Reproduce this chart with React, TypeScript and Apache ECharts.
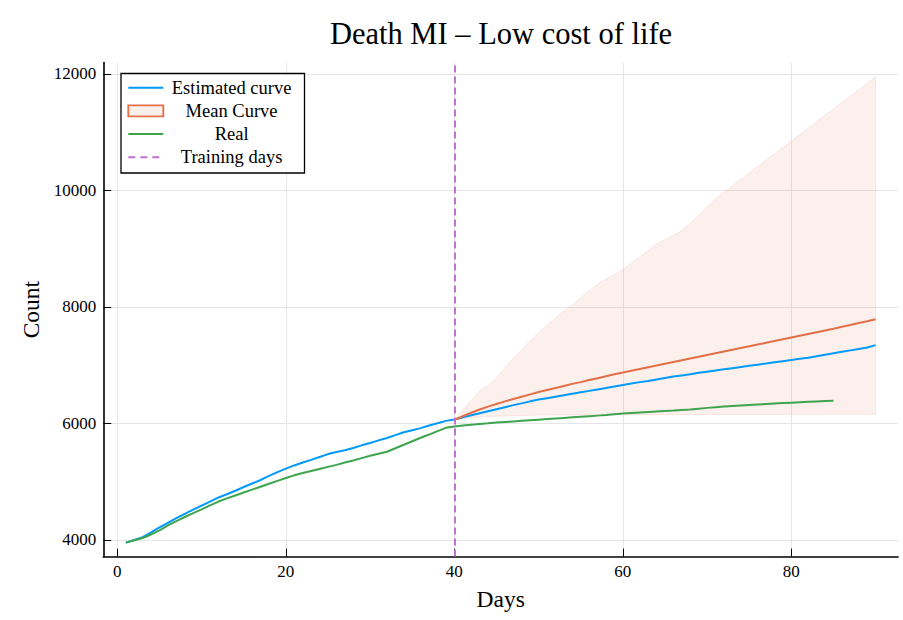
import React, { useEffect, useRef } from "react";
import * as echarts from "echarts";

const chartTitle = "Death MI – Low cost of life";
const xAxisName = "Days";
const yAxisName = "Count";
const xTicks = [0, 20, 40, 60, 80];
const yTicks = [4000, 6000, 8000, 10000, 12000];
const legendNames = ["Estimated curve", "Mean Curve", "Real", "Training days"];
const trainingDay = 40;

// Estimated curve, days 1..90
const estimatedStart = 1;
const estimatedCurve = [
  3955, 4000, 4050, 4130, 4215, 4295, 4375, 4450, 4520, 4590,
  4660, 4730, 4785, 4845, 4910, 4970, 5030, 5100, 5165, 5225,
  5280, 5330, 5375, 5425, 5475, 5510, 5540, 5580, 5625, 5665,
  5710, 5750, 5800, 5850, 5885, 5920, 5965, 6005, 6045, 6070,
  6105, 6140, 6175, 6210, 6245, 6280, 6315, 6345, 6380, 6410,
  6435, 6460, 6485, 6510, 6535, 6560, 6585, 6610, 6635, 6660,
  6685, 6710, 6730, 6755, 6780, 6805, 6825, 6845, 6870, 6890,
  6910, 6930, 6950, 6970, 6990, 7010, 7030, 7050, 7070, 7090,
  7110, 7130, 7155, 7180, 7205, 7230, 7255, 7280, 7305, 7345,
];

// Real, days 1..85
const realStart = 1;
const realCurve = [
  3955, 3995, 4035, 4095, 4165, 4250, 4325, 4395, 4460, 4525,
  4595, 4660, 4715, 4765, 4815, 4865, 4915, 4965, 5015, 5065,
  5110, 5150, 5185, 5220, 5255, 5290, 5330, 5365, 5405, 5445,
  5480, 5515, 5575, 5635, 5695, 5755, 5810, 5870, 5925, 5950,
  5965, 5980, 5992, 6003, 6015, 6025, 6035, 6045, 6055, 6065,
  6075, 6085, 6095, 6105, 6115, 6125, 6135, 6145, 6160, 6170,
  6180, 6190, 6198, 6206, 6214, 6222, 6232, 6242, 6255, 6268,
  6280, 6290, 6300, 6310, 6318, 6326, 6334, 6342, 6350, 6358,
  6365, 6372, 6378, 6384, 6390,
];

// Mean curve and its band, days 40..90
const meanStart = 40;
const meanCurve = [
  6060, 6125, 6185, 6240, 6290, 6335, 6380, 6420, 6460, 6500,
  6540, 6575, 6610, 6645, 6680, 6710, 6745, 6775, 6810, 6845,
  6875, 6905, 6935, 6965, 6995, 7025, 7055, 7085, 7115, 7145,
  7175, 7205, 7235, 7265, 7295, 7325, 7355, 7385, 7415, 7445,
  7475, 7505, 7535, 7565, 7595, 7625, 7660, 7690, 7725, 7755,
  7790,
];
const bandUpper = [
  6060, 6230, 6400, 6560, 6650, 6780, 6960, 7120, 7270, 7420,
  7560, 7690, 7810, 7930, 8040, 8160, 8280, 8390, 8480, 8560,
  8640, 8750, 8860, 8970, 9080, 9160, 9230, 9310, 9440, 9580,
  9720, 9850, 9970, 10080, 10190, 10300, 10410, 10520, 10630, 10740,
  10850, 10960, 11070, 11180, 11290, 11400, 11510, 11620, 11730, 11840,
  11955,
];
const bandLower = [
  6060, 6085, 6100, 6110, 6118, 6125, 6130, 6135, 6138, 6141,
  6144, 6145, 6146, 6147, 6148, 6148, 6149, 6149, 6150, 6150,
  6150, 6151, 6151, 6152, 6152, 6152, 6153, 6153, 6153, 6154,
  6154, 6154, 6155, 6155, 6155, 6155, 6156, 6156, 6156, 6156,
  6157, 6157, 6157, 6157, 6157, 6158, 6158, 6158, 6158, 6158,
  6158,
];

const BLUE = "#009AFA";
const ORANGE = "#E36F47";
const GREEN = "#3EA44E";
const PURPLE = "#C271D2";
const FONT = "'Liberation Serif', 'DejaVu Serif', serif";

const pairs = (start: number, arr: number[]) => arr.map((v, i) => [start + i, v]);

export default function App() {
  const ref = useRef<HTMLDivElement>(null);

  useEffect(() => {
    document.body.style.margin = "0";
    if (!ref.current) return;
    const chart = echarts.init(ref.current, null, { renderer: "svg" });

    const gridLeft = 103.3;
    const gridTop = 62.6;
    const gridWidth = 794.8;
    const gridHeight = 494;

    const legendX = 121;
    const legendY = 73.5;
    const rowY0 = 87.7;
    const rowStep = 23.2;
    const sampleX0 = 128.3;
    const sampleX1 = 163.3;
    const textX = 231.6;

    const legendGraphics: any[] = [
      {
        type: "rect",
        z: 100,
        shape: { x: legendX, y: legendY, width: 183.5, height: 99.5 },
        style: { fill: "#fff", stroke: "#000", lineWidth: 1.3 },
      },
    ];
    legendNames.forEach((name, i) => {
      const cy = rowY0 + i * rowStep;
      if (i === 1) {
        legendGraphics.push({
          type: "rect",
          z: 101,
          shape: { x: sampleX0, y: cy - 5.5, width: sampleX1 - sampleX0, height: 11 },
          style: { fill: "rgba(227,111,71,0.1)", stroke: ORANGE, lineWidth: 1.8 },
        });
      } else {
        const color = i === 0 ? BLUE : i === 2 ? GREEN : PURPLE;
        legendGraphics.push({
          type: "line",
          z: 101,
          shape: { x1: sampleX0, y1: cy, x2: i === 3 ? 160 : sampleX1, y2: cy },
          style: {
            stroke: color,
            lineWidth: 2,
            lineDash: i === 3 ? [7, 5] : null,
          },
        });
      }
      legendGraphics.push({
        type: "text",
        z: 101,
        x: textX,
        y: cy,
        style: {
          text: name,
          fontFamily: FONT,
          fontSize: 18.5,
          fill: "#000",
          align: "center",
          verticalAlign: "middle",
        },
      });
    });

    chart.setOption({
      animation: false,
      backgroundColor: "#fff",
      grid: {
        left: gridLeft,
        top: gridTop,
        width: gridWidth,
        height: gridHeight,
        containLabel: false,
        outerBoundsMode: "none",
      },
      xAxis: {
        type: "value",
        min: -1.67,
        max: 92.67,
        name: xAxisName,
        nameLocation: "middle",
        nameGap: 30,
        nameTextStyle: { fontFamily: FONT, fontSize: 23.5, color: "#000" },
        axisLine: { show: true, onZero: false, lineStyle: { color: "#000", width: 1.6 } },
        axisTick: {
          show: true,
          inside: true,
          length: 8,
          customValues: xTicks,
          lineStyle: { color: "#000", width: 1 },
        },
        axisLabel: {
          customValues: xTicks,
          formatter: (v: number) => String(v),
          fontFamily: FONT,
          fontSize: 17,
          color: "#000",
          margin: 6,
        },
        splitLine: { show: true, lineStyle: { color: "#e6e6e6", width: 1 } },
      },
      yAxis: {
        type: "value",
        min: 3715,
        max: 12195,
        name: yAxisName,
        nameLocation: "middle",
        nameGap: 58,
        nameRotate: 90,
        nameTextStyle: { fontFamily: FONT, fontSize: 23.5, color: "#000" },
        axisLine: { show: true, onZero: false, lineStyle: { color: "#000", width: 1.6 } },
        axisTick: {
          show: true,
          inside: true,
          length: 8,
          customValues: yTicks,
          lineStyle: { color: "#000", width: 1 },
        },
        axisLabel: {
          customValues: yTicks,
          formatter: (v: number) => String(v),
          fontFamily: FONT,
          fontSize: 17,
          color: "#000",
          margin: 7,
        },
        splitLine: { show: true, lineStyle: { color: "#e6e6e6", width: 1 } },
      },
      graphic: [
        {
          type: "text",
          x: 501,
          y: 34,
          style: {
            text: chartTitle,
            fontFamily: FONT,
            fontSize: 30.5,
            fill: "#000",
            align: "center",
            verticalAlign: "middle",
          },
        },
        ...legendGraphics,
      ],
      series: [
        {
          name: "band",
          type: "custom",
          silent: true,
          z: 1,
          data: [[meanStart, bandLower[0]]],
          renderItem: (_params: any, api: any) => {
            const pts: number[][] = [];
            bandUpper.forEach((u, i) => pts.push(api.coord([meanStart + i, u])));
            for (let i = bandLower.length - 1; i >= 0; i--) {
              pts.push(api.coord([meanStart + i, bandLower[i]]));
            }
            return {
              type: "polygon",
              shape: { points: pts },
              style: {
                fill: "rgba(227,111,71,0.1)",
                stroke: "rgba(227,111,71,0.13)",
                lineWidth: 1,
              },
            };
          },
        },
        {
          name: legendNames[0],
          type: "line",
          data: pairs(estimatedStart, estimatedCurve),
          symbol: "none",
          lineStyle: { color: BLUE, width: 2 },
          z: 3,
        },
        {
          name: legendNames[1],
          type: "line",
          data: pairs(meanStart, meanCurve),
          symbol: "none",
          lineStyle: { color: ORANGE, width: 2 },
          z: 4,
        },
        {
          name: legendNames[2],
          type: "line",
          data: pairs(realStart, realCurve),
          symbol: "none",
          lineStyle: { color: GREEN, width: 2 },
          z: 5,
        },
        {
          name: legendNames[3],
          type: "line",
          data: [],
          symbol: "none",
          z: 6,
          markLine: {
            silent: true,
            symbol: "none",
            label: { show: false },
            lineStyle: { color: PURPLE, width: 2, type: [7, 4] },
            data: [{ xAxis: trainingDay }],
          },
        },
      ],
    });

    return () => {
      chart.dispose();
    };
  }, []);

  return (
    <div
      ref={ref}
      style={{ width: 903, height: 620, position: "absolute", left: 0, top: 0 }}
    />
  );
}
